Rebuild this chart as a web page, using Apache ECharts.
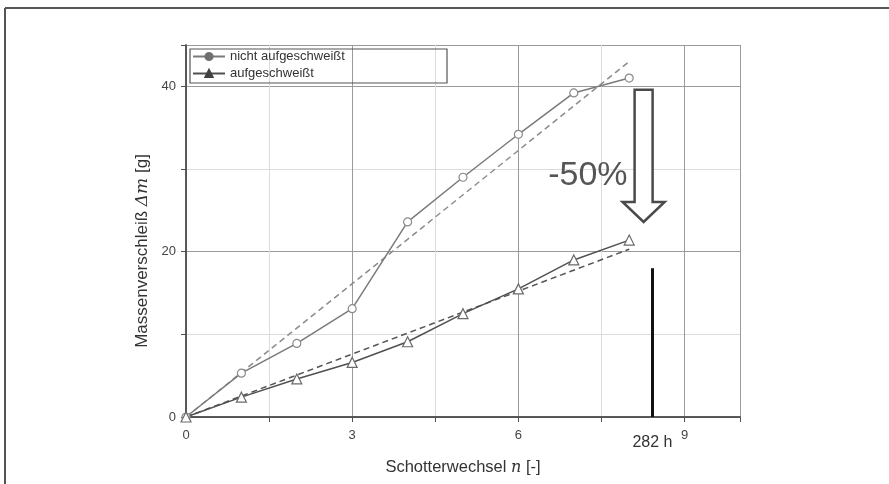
<!DOCTYPE html>
<html>
<head>
<meta charset="utf-8">
<script src="https://cdn.jsdelivr.net/npm/echarts@6/dist/echarts.min.js"></script>
<style>
  html, body { margin: 0; padding: 0; background: #fff; }
  #chart { width: 889px; height: 484px; }
</style>
</head>
<body>
<div id="chart"></div>
<script>
// Schotterwechsel n
const nValues = [0, 1, 2, 3, 4, 5, 6, 7, 8]
// Massenverschleiss [g]
const nichtAufgeschweisst = [0, 5.3, 8.9, 13.1, 23.6, 29.0, 34.2, 39.2, 41.0]
const aufgeschweisst = [0, 2.4, 4.6, 6.6, 9.1, 12.5, 15.5, 19.0, 21.4]
// lineare Ausgleichsgeraden (Start / Ende)
const fitNicht = [[0, 0], [8, 43]]
const fitAuf = [[0, 0], [8, 20.3]]
// Markierung 282 h
const markX = 8.42
const markTop = 18
// Pfeil -50 %
const arrowX = 8.26
const arrowTop = 39.6
const arrowTip = 23.6

const xTickLabels = [0, 3, 6, 9]
const yTickLabels = [0, 20, 40]

const frame = '#505050'

const pairs = (xs, ys) => xs.map((x, i) => [x, ys[i]])

let myChart = echarts.init(document.getElementById('chart'))

const hiddenAxis = {
  axisLine: { show: false },
  axisTick: { show: false },
  axisLabel: { show: false }
}

let option = {
  animation: false,
  textStyle: { fontFamily: 'Liberation Sans, Arial, sans-serif' },
  grid: { left: 186, top: 45, right: 149, bottom: 67 },
  legend: {
    orient: 'vertical',
    left: 192,
    top: 50,
    itemWidth: 32,
    itemHeight: 9,
    itemGap: 4,
    padding: 0,
    textStyle: { fontSize: 13, color: '#333' },
    data: [
      { name: 'nicht aufgeschweißt', itemStyle: { color: '#707070', borderColor: '#707070' } },
      { name: 'aufgeschweißt', itemStyle: { color: '#404040', borderColor: '#404040' } }
    ]
  },
  xAxis: [
    {
      type: 'value', min: 0, max: 10, interval: 1.5, position: 'bottom',
      name: '{a|Schotterwechsel }{b|n}{a| [-]}',
      nameLocation: 'middle', nameGap: 42,
      nameTextStyle: {
        rich: {
          a: { fontSize: 16.5, color: '#333' },
          b: { fontSize: 16, color: '#333', fontStyle: 'italic', fontFamily: 'DejaVu Serif' }
        }
      },
      axisLine: { lineStyle: { color: frame, width: 1.5 } },
      axisTick: { length: 5, lineStyle: { color: frame } },
      axisLabel: {
        fontSize: 13, color: '#444', margin: 12,
        formatter: v => (xTickLabels.indexOf(v) >= 0 ? String(v) : '')
      },
      splitLine: { show: true, lineStyle: { color: '#dcdcdc', width: 1 } }
    },
    {
      type: 'value', min: 0, max: 10, interval: 1.5, position: 'top',
      axisLine: { show: true, lineStyle: { color: frame, width: 1.5 } },
      axisTick: { show: true, inside: true, length: 4, lineStyle: { color: frame } },
      axisLabel: { show: false },
      splitLine: { show: false }
    },
    Object.assign({
      type: 'value', min: 0, max: 10, interval: 3, position: 'bottom',
      splitLine: { show: true, lineStyle: { color: '#9a9a9a', width: 1 } }
    }, hiddenAxis)
  ],
  yAxis: [
    {
      type: 'value', min: 0, max: 45, interval: 10, position: 'left',
      name: '{a|Massenverschleiß }{b|Δm}{a| [g]}',
      nameLocation: 'middle', nameGap: 27,
      nameTextStyle: {
        padding: [0, 40, 0, 0],
        rich: {
          a: { fontSize: 17, color: '#333' },
          b: { fontSize: 17, color: '#333', fontStyle: 'italic', fontFamily: 'DejaVu Serif' }
        }
      },
      axisLine: { show: true, lineStyle: { color: frame, width: 1.5 } },
      axisTick: { show: true, length: 5, lineStyle: { color: frame } },
      axisLabel: {
        fontSize: 13, color: '#444', margin: 10,
        formatter: v => (yTickLabels.indexOf(v) >= 0 ? String(v) : '')
      },
      splitLine: { show: true, lineStyle: { color: '#dcdcdc', width: 1 } }
    },
    {
      type: 'value', min: 0, max: 45, interval: 10, position: 'right',
      axisLine: { show: true, lineStyle: { color: frame, width: 1.5 } },
      axisTick: { show: true, inside: true, length: 4, lineStyle: { color: frame } },
      axisLabel: { show: false },
      splitLine: { show: false }
    },
    Object.assign({
      type: 'value', min: 0, max: 45, interval: 20, position: 'left',
      splitLine: { show: true, lineStyle: { color: '#9a9a9a', width: 1 } }
    }, hiddenAxis)
  ],
  series: [
    {
      name: 'nicht aufgeschweißt',
      type: 'line',
      data: pairs(nValues, nichtAufgeschweisst),
      symbol: 'circle',
      symbolSize: 8,
      showAllSymbol: true,
      lineStyle: { color: '#7a7a7a', width: 1.5 },
      itemStyle: { color: '#fff', borderColor: '#8a8a8a', borderWidth: 1.2 },
      z: 5,
      markLine: {
        silent: true,
        symbol: 'none',
        lineStyle: { color: '#111', width: 3, type: 'solid' },
        label: {
          show: true, position: 'start', distance: 18,
          formatter: '282 h', fontSize: 16, color: '#333'
        },
        data: [[{ coord: [markX, 0] }, { coord: [markX, markTop] }]]
      }
    },
    {
      name: 'aufgeschweißt',
      type: 'line',
      data: pairs(nValues, aufgeschweisst),
      symbol: 'triangle',
      symbolSize: 10,
      showAllSymbol: true,
      lineStyle: { color: '#505050', width: 1.5 },
      itemStyle: { color: '#fff', borderColor: '#6a6a6a', borderWidth: 1.2 },
      z: 5
    },
    {
      name: 'fit1',
      type: 'line',
      data: fitNicht,
      symbol: 'none',
      lineStyle: { color: '#8c8c8c', width: 1.5, type: [6, 4] },
      z: 4
    },
    {
      name: 'fit2',
      type: 'line',
      data: fitAuf,
      symbol: 'none',
      lineStyle: { color: '#555', width: 1.5, type: [6, 4] },
      z: 4
    }
  ]
}

myChart.setOption(option)

// Pfeil und Beschriftung aus Datenkoordinaten
const arrowStart = myChart.convertToPixel({ gridIndex: 0 }, [arrowX, arrowTop])
const arrowEnd = myChart.convertToPixel({ gridIndex: 0 }, [arrowX, arrowTip])
const cx = arrowStart[0]
const shaftHalf = 9
const headHalf = 21
const headStart = arrowEnd[1] - 20
myChart.setOption({
  graphic: [
    // aeusserer Rahmen
    { type: 'line', shape: { x1: 5, y1: 8, x2: 889, y2: 8 }, style: { stroke: '#555', lineWidth: 2 } },
    { type: 'line', shape: { x1: 5, y1: 8, x2: 5, y2: 484 }, style: { stroke: '#555', lineWidth: 2 } },
    // Legendenrahmen
    { type: 'rect', shape: { x: 190, y: 49, width: 257, height: 34 }, style: { fill: 'none', stroke: '#555', lineWidth: 1.2 }, z: 10 },
    {
      type: 'polygon',
      z: 10,
      shape: {
        points: [
          [cx - shaftHalf, arrowStart[1]], [cx + shaftHalf, arrowStart[1]],
          [cx + shaftHalf, headStart], [cx + headHalf, headStart],
          [cx, arrowEnd[1]],
          [cx - headHalf, headStart], [cx - shaftHalf, headStart]
        ]
      },
      style: { fill: '#fff', stroke: '#4a4a4a', lineWidth: 2.5 }
    },
    {
      type: 'text',
      z: 10,
      x: cx - 16,
      y: (arrowStart[1] + arrowEnd[1]) / 2 + 20,
      style: {
        text: '-50%', fontSize: 34, fill: '#555',
        fontFamily: 'Liberation Sans, Arial, sans-serif',
        align: 'right', verticalAlign: 'middle'
      }
    }
  ]
})
</script>
</body>
</html>
